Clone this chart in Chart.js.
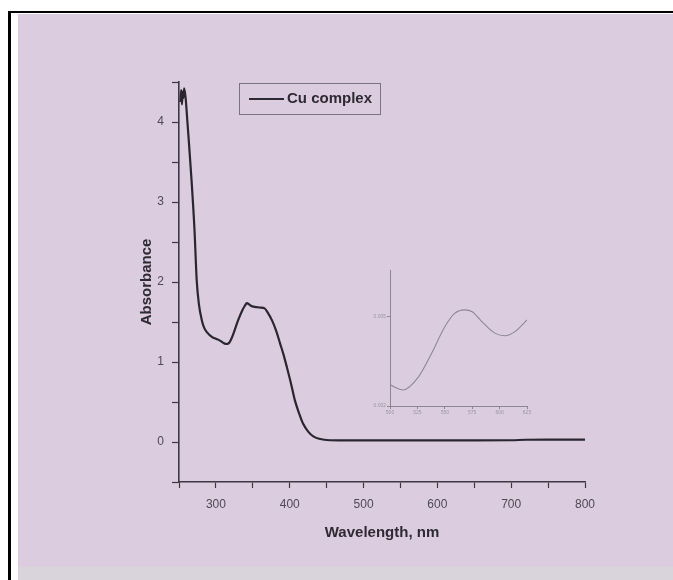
<!DOCTYPE html>
<html>
<head>
<meta charset="utf-8">
<script src="https://cdn.jsdelivr.net/npm/chart.js@4.4.0/dist/chart.umd.min.js"></script>
<style>
  html, body { margin:0; padding:0; background:#fff; }
  #page { position:relative; width:673px; height:580px; overflow:hidden; background:#fff; }
  #frameTop { position:absolute; left:8px; top:11px; width:665px; height:2px; background:#000; }
  #frameLeft { position:absolute; left:8px; top:11px; width:3px; height:569px; background:#000; }
  #paper { position:absolute; left:18px; top:14px; width:655px; height:553px; background:#dccce0; }
  #paperBottom { position:absolute; left:18px; top:567px; width:655px; height:13px; background:#d9d4dc; }
  canvas { position:absolute; left:0; top:0; }
  #legend { position:absolute; left:239px; top:83px; width:140px; height:30px; border:1px solid #7a7480;
            font-family:"Liberation Sans", Arial, sans-serif; font-weight:bold; font-size:15px; color:#2e2a33; }
  #legend .ln { position:absolute; left:9px; top:14px; width:35px; height:2px; background:#2e2a33; }
  #legend .tx { position:absolute; left:47px; top:5px; white-space:nowrap; }
</style>
</head>
<body>
<div id="page">
  <div id="frameTop"></div>
  <div id="frameLeft"></div>
  <div id="paper"></div>
  <div id="paperBottom"></div>
  <canvas id="main" width="673" height="580"></canvas>
  <canvas id="inset" width="673" height="580"></canvas>
  <div id="legend"><div class="ln"></div><div class="tx">Cu complex</div></div>
</div>
<script>
// ---- main spectrum data ----
const seriesName = "Cu complex";
const wavelength = [252,253,254,255,256,257,259,261,263,267,271,274,277,281,284,288,295,300,305,309,312,315,318,321,324,330,336,339,342,345,348,352,360,366,370,376,382,387,392,396,402,407,413,418,425,432,440,450,475,500,550,600,650,700,720,750,800];
const absorbance = [4.25,4.40,4.22,4.38,4.30,4.42,4.30,4.05,3.80,3.27,2.65,2.02,1.72,1.52,1.43,1.37,1.31,1.29,1.27,1.245,1.23,1.225,1.24,1.29,1.36,1.52,1.65,1.70,1.735,1.72,1.70,1.69,1.68,1.67,1.62,1.52,1.38,1.23,1.08,0.94,0.72,0.52,0.35,0.23,0.13,0.07,0.04,0.025,0.02,0.02,0.02,0.02,0.02,0.022,0.028,0.03,0.03];
const xMajorLabels = [300,400,500,600,700,800];
const yMajorLabels = [0,1,2,3,4];

// ---- inset data ----
const insetWavelength = [500,512,526,538,550,559,568,575,584,596,605,614,625];
const insetAbs = [0.00271,0.00254,0.00298,0.00377,0.00466,0.00511,0.00523,0.00517,0.00483,0.00444,0.00436,0.00450,0.00489];
const insetXTicks = [500,525,550,575,600,625];
const insetYTicks = [0.002,0.005];

const FONT = '"Liberation Sans", Arial, sans-serif';
const AX = '#3c3742';

new Chart(document.getElementById('main'), {
  type: 'line',
  data: {
    datasets: [{
      label: seriesName,
      data: wavelength.map((w,i)=>({x:w, y:absorbance[i]})),
      borderColor: '#2a2630',
      borderWidth: 2.2,
      pointRadius: 0,
      cubicInterpolationMode: 'monotone',
      fill: false
    }]
  },
  options: {
    responsive: false,
    animation: false,
    layout: { padding: { left: 134, top: 82, right: 88, bottom: 38 } },
    plugins: { legend: { display:false }, tooltip: { enabled:false } },
    scales: {
      x: {
        type: 'linear', min: 250, max: 800,
        afterFit: s => { s.height = 60; },
        ticks: { stepSize: 50, autoSkip:false, maxRotation:0, padding: 9,
                 color:'#4e4954', font:{family:FONT, size:12},
                 callback: v => xMajorLabels.includes(v) ? String(v) : '' },
        grid: { drawOnChartArea:false, drawTicks:true, tickLength:6, tickColor:AX, tickWidth:1.2 },
        border: { display:true, color:AX, width:1.6 },
        title: { display:true, text:'Wavelength, nm', color:'#2e2a33',
                 font:{family:FONT, size:15, weight:'bold'}, padding:{top:6, bottom:0} }
      },
      y: {
        type: 'linear', min: -0.5, max: 4.5,
        afterFit: s => { s.width = 45; },
        ticks: { stepSize: 0.5, autoSkip:false, padding: 8,
                 color:'#4e4954', font:{family:FONT, size:12},
                 callback: v => yMajorLabels.includes(v) ? String(v) : '' },
        grid: { drawOnChartArea:false, drawTicks:true, tickLength:7, tickColor:AX, tickWidth:1.2 },
        border: { display:true, color:AX, width:1.6 },
        title: { display:true, text:'Absorbance', color:'#2e2a33',
                 font:{family:FONT, size:15, weight:'bold'}, padding:{top:4, bottom:0} }
      }
    }
  }
});

const IAX = '#8c8693';
new Chart(document.getElementById('inset'), {
  type: 'line',
  data: {
    datasets: [{
      data: insetWavelength.map((w,i)=>({x:w, y:insetAbs[i]})),
      borderColor: '#8e8894',
      borderWidth: 1.1,
      pointRadius: 0,
      cubicInterpolationMode: 'monotone',
      fill: false
    }]
  },
  options: {
    responsive: false,
    animation: false,
    layout: { padding: { left: 360, top: 270, right: 146, bottom: 156 } },
    plugins: { legend: { display:false }, tooltip: { enabled:false } },
    scales: {
      x: {
        type: 'linear', min: 500, max: 625,
        afterFit: s => { s.height = 18; },
        afterBuildTicks: s => { s.ticks = insetXTicks.map(v=>({value:v})); },
        ticks: { autoSkip:false, maxRotation:0, padding: 1, color:'#9a94a0', font:{family:FONT, size:5} },
        grid: { drawOnChartArea:false, drawTicks:true, tickLength:3, tickColor:IAX },
        border: { display:true, color:IAX, width:1 }
      },
      y: {
        type: 'linear', min: 0.002, max: 0.00657,
        afterFit: s => { s.width = 30; },
        afterBuildTicks: s => { s.ticks = insetYTicks.map(v=>({value:v})); },
        ticks: { autoSkip:false, padding: 1, color:'#9a94a0', font:{family:FONT, size:5},
                 callback: v => v.toFixed(3) },
        grid: { drawOnChartArea:false, drawTicks:true, tickLength:3, tickColor:IAX },
        border: { display:true, color:IAX, width:1 }
      }
    }
  }
});
</script>
</body>
</html>
